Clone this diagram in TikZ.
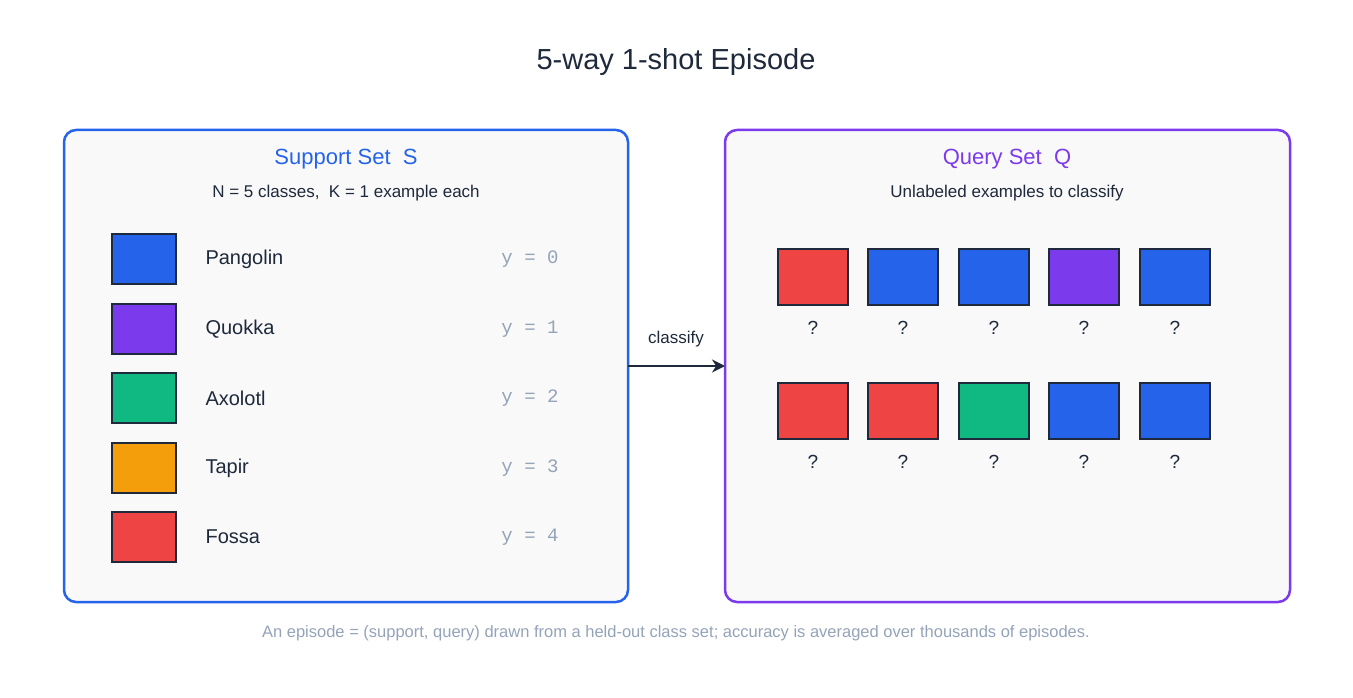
\documentclass[tikz,border=0pt]{standalone}
\usepackage{fontspec}
\setmainfont{Liberation Sans}
\setmonofont{Liberation Mono}
\usetikzlibrary{arrows.meta}
\definecolor{dark}{HTML}{1E293B}
\definecolor{cblue}{HTML}{2563EB}
\definecolor{cpurple}{HTML}{7C3AED}
\definecolor{cgreen}{HTML}{10B981}
\definecolor{camber}{HTML}{F59E0B}
\definecolor{cred}{HTML}{EF4444}
\definecolor{cgray}{HTML}{94A3B8}
\definecolor{panel}{HTML}{F9F9F9}
\begin{document}
\begin{tikzpicture}[x=1pt,y=-1pt,
  panelbox/.style={draw=#1,line width=2.5pt,fill=panel,rounded corners=12pt},
  sw/.style={draw=dark,line width=1.5pt,fill=#1,minimum width=64pt,minimum height=50pt,inner sep=0},
  qs/.style={draw=dark,line width=1.5pt,fill=#1,minimum width=70pt,minimum height=56pt,inner sep=0},
  lab/.style={anchor=west,text=dark,font=\fontsize{20}{24}\selectfont},
  yl/.style={text=cgray,font=\ttfamily\fontsize{19}{22}\selectfont},
  qm/.style={text=dark,font=\fontsize{19}{22}\selectfont}]
\useasboundingbox (0,0) rectangle (1353,698);
\node[text=dark,font=\fontsize{29}{34}\selectfont] (title) at (676,62) {5-way 1-shot Episode};
\draw[panelbox=cblue] (64,130) rectangle (628,602);
\draw[panelbox=cpurple] (725,130) rectangle (1290,602);
\coordinate (sR) at (628,366);
\coordinate (qL) at (725,366);
\node[text=cblue,font=\fontsize{22}{26}\selectfont] (st) at (346,159) {Support Set\ \ S};
\node[text=dark,font=\fontsize{17}{20}\selectfont] (ss) at (346,193) {N = 5 classes,\ \ K = 1 example each};
\node[text=cpurple,font=\fontsize{22}{26}\selectfont] (qt) at (1007,159) {Query Set\ \ Q};
\node[text=dark,font=\fontsize{17}{20}\selectfont] (qsub) at (1007,193) {Unlabeled examples to classify};
\foreach \c/\n/\y/\i in {cblue/Pangolin/259/0,cpurple/Quokka/329/1,cgreen/Axolotl/398/2,camber/Tapir/468/3,cred/Fossa/537/4}{
  \node[sw=\c] (s\i) at (144,\y) {};
  \node[lab] (l\i) at (202,\y) {\n};
  \node[yl] (y\i) at (530,\y) {y = \i};
}
\foreach \c/\x/\i in {cred/813/1,cblue/903/2,cblue/994/3,cpurple/1084/4,cblue/1175/5}{
  \node[qs=\c] (a\i) at (\x,277) {};
  \node[qm] (aq\i) at (\x,328) {?};
}
\foreach \c/\x/\i in {cred/813/1,cred/903/2,cgreen/994/3,cblue/1084/4,cblue/1175/5}{
  \node[qs=\c] (b\i) at (\x,411) {};
  \node[qm] (bq\i) at (\x,462) {?};
}
\draw[dark,line width=2.5pt,-{Stealth[length=13pt,width=13pt]}] (sR) -- (qL);
\node[text=dark,font=\fontsize{17}{20}\selectfont] (cl) at (676,339) {classify};
\node[text=cgray,font=\fontsize{16.5}{20}\selectfont] (foot) at (676,633) {An episode = (support, query) drawn from a held-out class set; accuracy is averaged over thousands of episodes.};
\end{tikzpicture}
\end{document}
